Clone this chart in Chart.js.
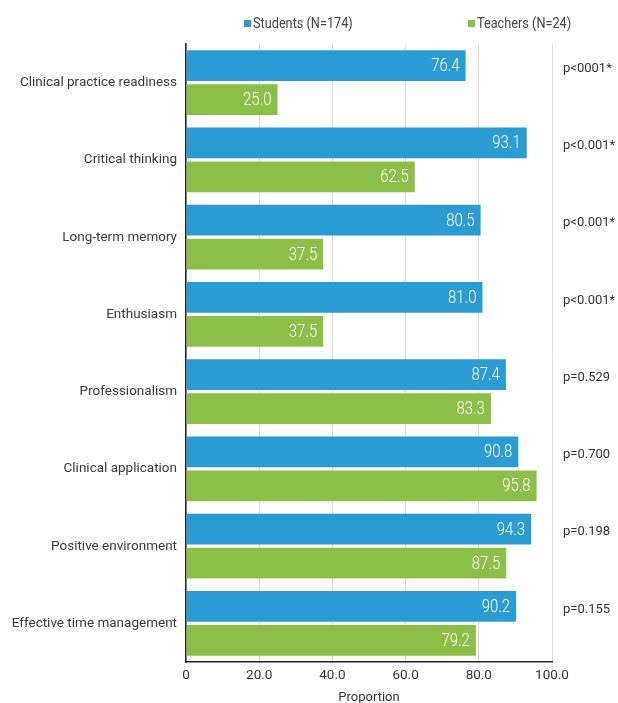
<!DOCTYPE html>
<html>
<head>
    <title>Students vs Teachers</title>
    <script src="https://cdn.jsdelivr.net/npm/chart.js"></script>
    <style>
        body { margin: 0; background: #fff; }
        #wrap { width: 618px; height: 703px; }
    </style>
</head>
<body>
    <div id="wrap"><canvas id="barChart" width="618" height="703"></canvas></div>

    <script>
        // data
        const categories = [
            'Clinical practice readiness',
            'Critical thinking',
            'Long-term memory',
            'Enthusiasm',
            'Professionalism',
            'Clinical application',
            'Positive environment',
            'Effective time management'
        ];
        const students = [76.4, 93.1, 80.5, 81.0, 87.4, 90.8, 94.3, 90.2];
        const teachers = [25.0, 62.5, 37.5, 37.5, 83.3, 95.8, 87.5, 79.2];
        const pValues = ['p<0001*', 'p<0.001*', 'p<0.001*', 'p<0.001*', 'p=0.529', 'p=0.700', 'p=0.198', 'p=0.155'];
        const seriesNames = ['Students (N=174)', 'Teachers (N=24)'];
        const colors = ['#2b9bd3', '#8cbf48'];

        const fontName = 'Roboto, "Noto Sans", sans-serif';

        // squeeze text horizontally to mimic the narrow font of the original
        function narrowText(ctx, text, x, y, sx) {
            ctx.save();
            ctx.translate(x, y);
            ctx.scale(sx, 1);
            ctx.fillText(text, 0, 0);
            ctx.restore();
        }

        // value inside bar end + p-values on the right + top legend
        const extras = {
            id: 'extras',
            afterDatasetsDraw(chart) {
                const ctx = chart.ctx;
                ctx.save();
                ctx.fillStyle = '#ffffff';
                ctx.font = '300 18px ' + fontName;
                ctx.textAlign = 'right';
                ctx.textBaseline = 'middle';
                chart.data.datasets.forEach((ds, di) => {
                    chart.getDatasetMeta(di).data.forEach((bar, i) => {
                        narrowText(ctx, ds.data[i].toFixed(1), bar.x - 6, bar.y + 1, 0.83);
                    });
                });

                const y = chart.scales.y;
                ctx.fillStyle = '#333';
                ctx.font = '13px ' + fontName;
                ctx.textAlign = 'left';
                pValues.forEach((p, i) => {
                    ctx.fillText(p, chart.chartArea.right + 11, y.getPixelForValue(i) - 14);
                });

                // legend
                const legendX = [244, 468];
                ctx.font = '15.5px ' + fontName;
                seriesNames.forEach((name, i) => {
                    ctx.fillStyle = colors[i];
                    ctx.fillRect(legendX[i], 20, 7, 7);
                    ctx.fillStyle = '#444';
                    narrowText(ctx, name, legendX[i] + 9, 24, 0.82);
                });
                ctx.restore();
            }
        };

        const chart = new Chart(document.getElementById('barChart'), {
            type: 'bar',
            data: {
                labels: categories,
                datasets: [
                    { label: seriesNames[0], data: students, backgroundColor: colors[0] },
                    { label: seriesNames[1], data: teachers, backgroundColor: colors[1] }
                ]
            },
            options: {
                indexAxis: 'y',
                responsive: false,
                animation: false,
                categoryPercentage: 0.88,
                barPercentage: 0.9,
                layout: { padding: { top: 44, right: 66, left: 0, bottom: 0 } },
                plugins: {
                    legend: { display: false },
                    tooltip: { enabled: false }
                },
                scales: {
                    x: {
                        min: 0,
                        max: 100,
                        ticks: {
                            stepSize: 20,
                            padding: 6,
                            color: '#333',
                            font: { family: fontName, size: 13.5 },
                            callback: v => v === 0 ? '0' : v.toFixed(1)
                        },
                        grid: { color: '#d9d9d9', drawTicks: false },
                        border: { color: '#222', width: 1.5 },
                        title: {
                            display: true,
                            text: 'Proportion',
                            color: '#333',
                            font: { family: fontName, size: 13 },
                            padding: { top: 0, bottom: -3 }
                        },
                        afterFit: s => { s.height = 41; }
                    },
                    y: {
                        ticks: {
                            padding: 9,
                            color: '#3a3a3a',
                            font: { family: fontName, size: 13.5 }
                        },
                        grid: { display: false, drawTicks: false },
                        border: { color: '#222', width: 1.5 },
                        afterFit: s => { s.width = 186; }
                    }
                }
            },
            plugins: [extras]
        });
    </script>
</body>
</html>
